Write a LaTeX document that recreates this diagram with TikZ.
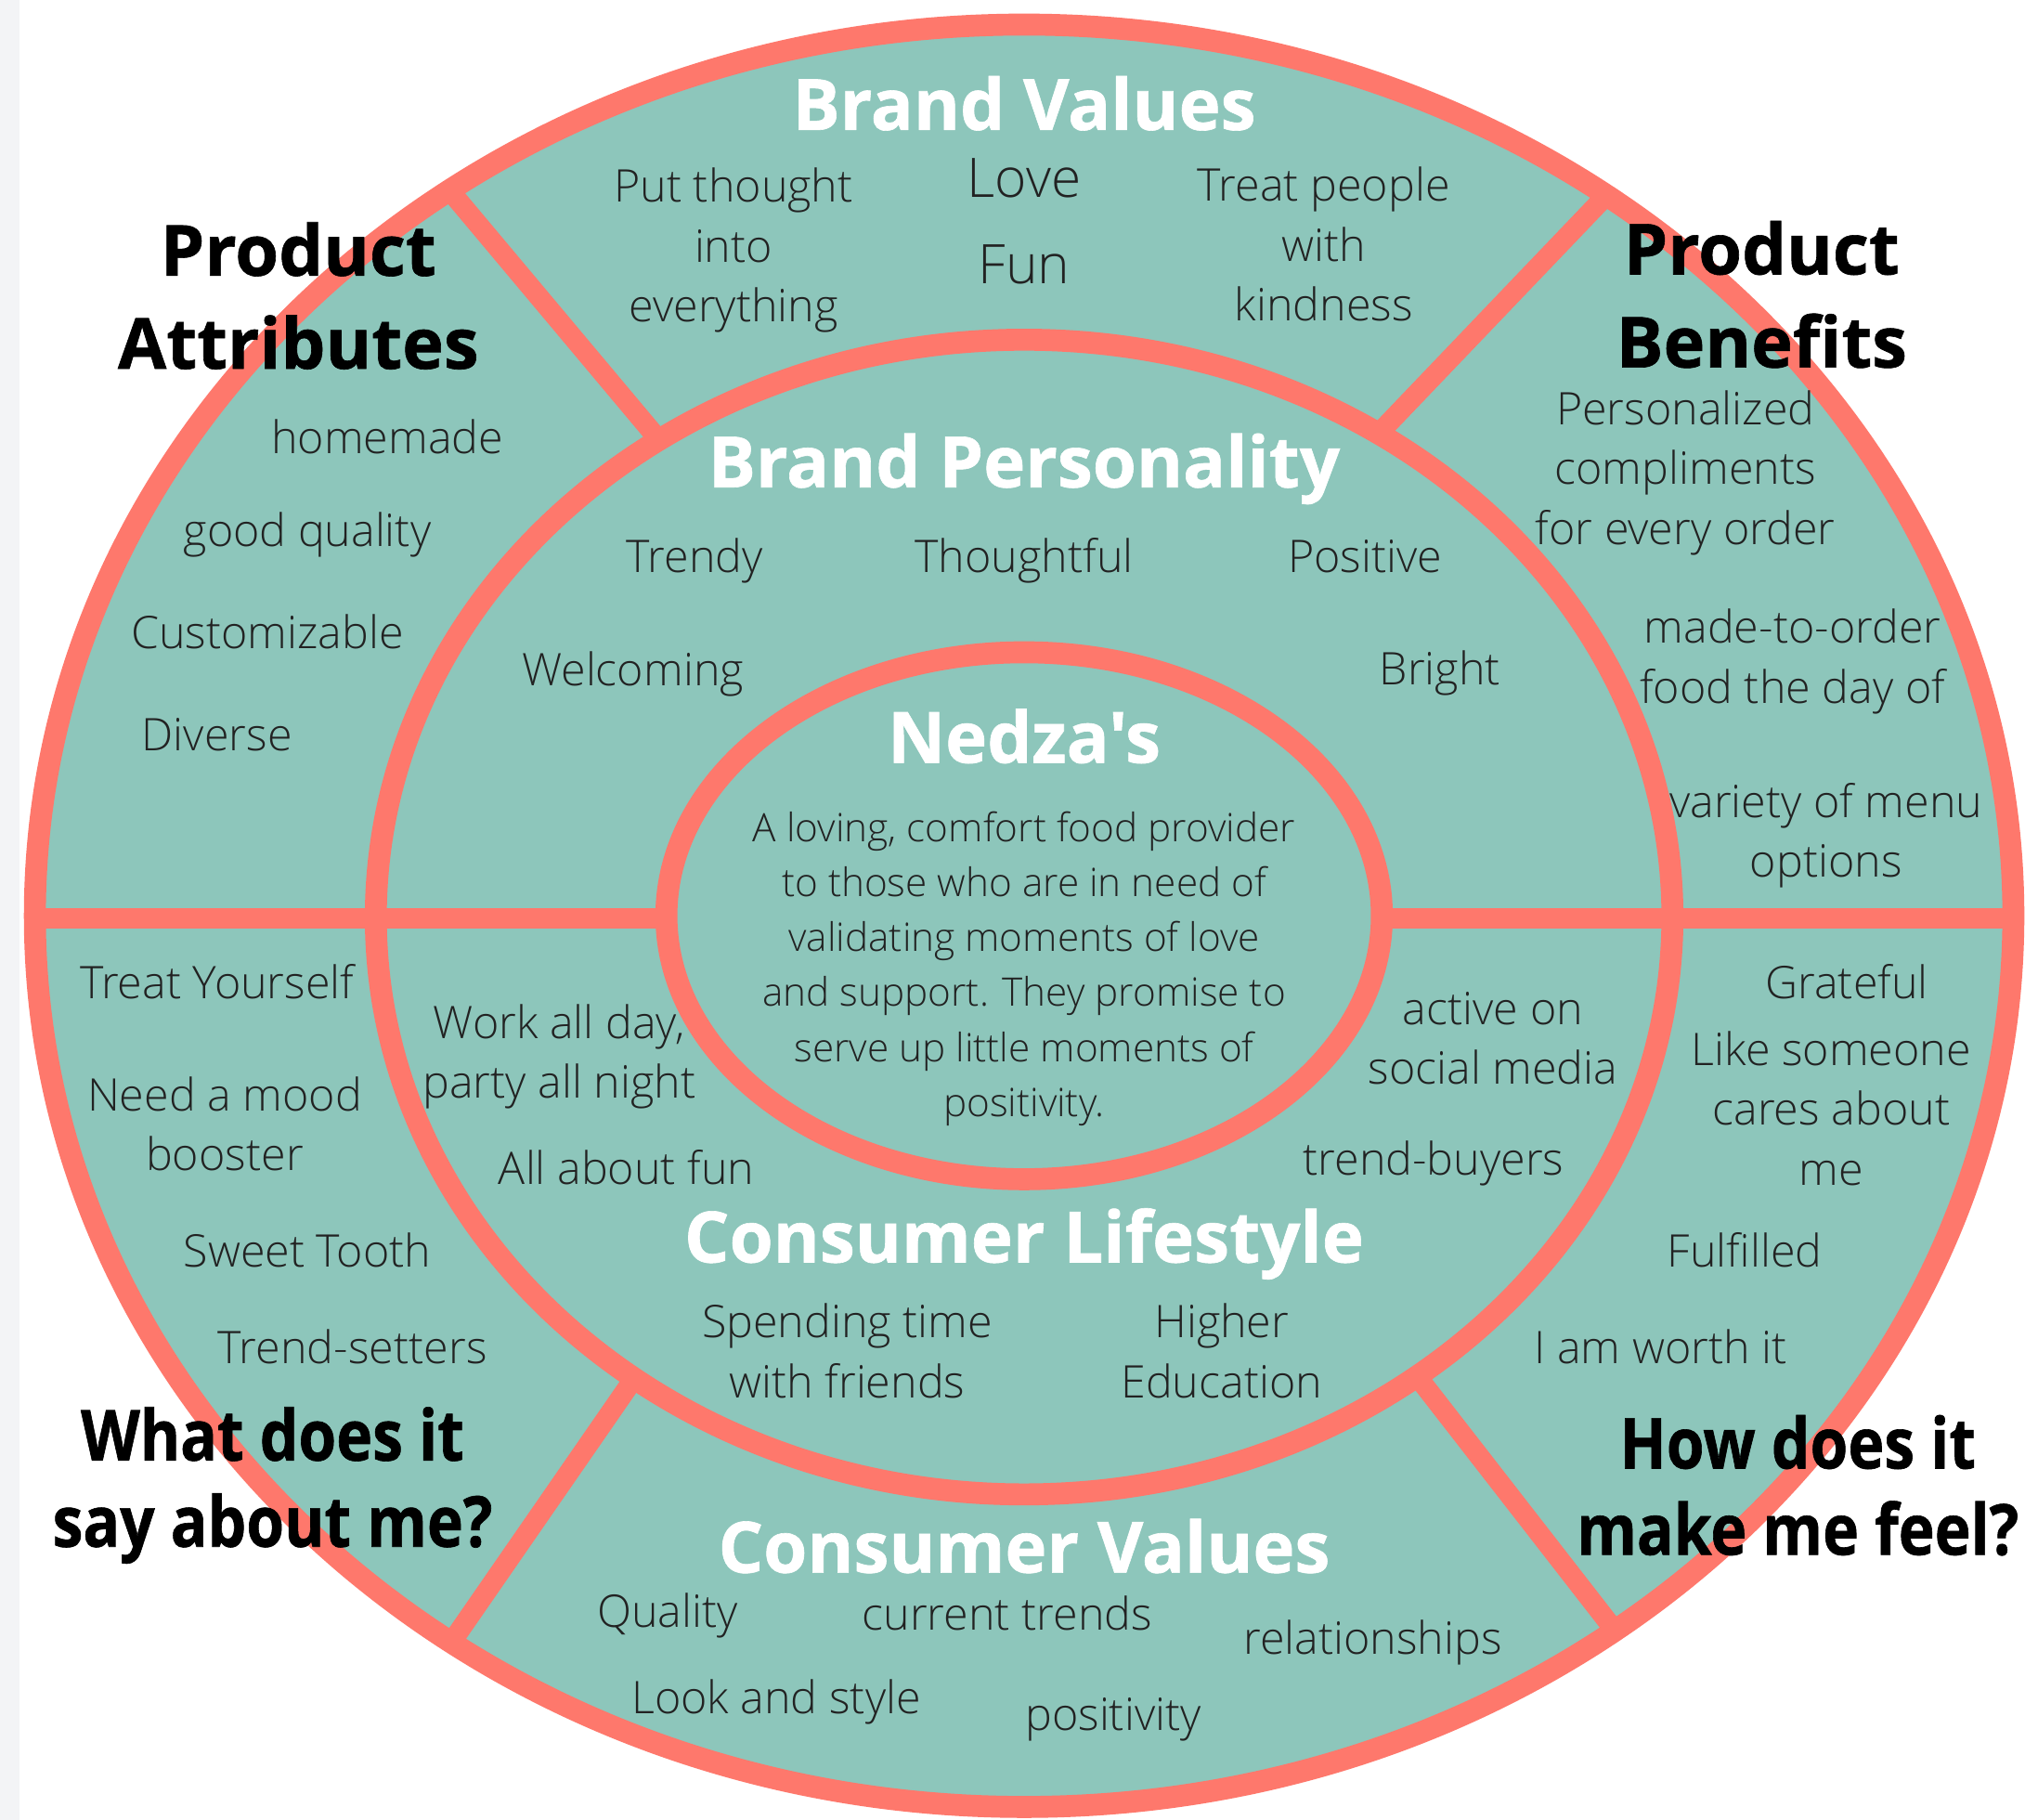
\documentclass[tikz,border=0pt]{standalone}
\usepackage{fontspec}
\setmainfont{Open Sans}[Ligatures=TeXOff, BoldFeatures={FakeBold=0.8}]
\newfontfamily\lightfont{Open Sans Light}
\newfontfamily\narrowfont{Open Sans}[FakeStretch=0.87, BoldFeatures={FakeBold=0.8}]
\newcommand\heavyfont{\bfseries}
\usetikzlibrary{calc}
\definecolor{sea}{HTML}{8DC6BB}
\definecolor{coral}{HTML}{FE786C}
\definecolor{ink}{HTML}{222222}
\definecolor{margin}{HTML}{F3F4F6}

\begin{document}
\begin{tikzpicture}[
  x=0.1mm, y=-0.1mm,
  ring/.style={draw=coral, line width=1.7mm},
  spoke/.style={draw=coral, line width=1.55mm},
  item/.style={font=\lightfont\fontsize{9.9}{13.2}\selectfont, text=ink, align=center, inner sep=0pt},
  big/.style={item, font=\lightfont\fontsize{12}{16}\selectfont},
  blurb/.style={item, font=\lightfont\fontsize{8.65}{12.1}\selectfont},
  ringtitle/.style={font=\heavyfont\fontsize{15.6}{18}\selectfont, text=white, inner sep=0pt},
  corner/.style={font=\heavyfont\fontsize{15.5}{20.5}\selectfont, text=black, align=center, inner sep=0pt},
  question/.style={corner, font=\narrowfont\bfseries\fontsize{15.5}{19}\selectfont},
]
\useasboundingbox (0,0) rectangle (1568,1409);
\fill[white] (0,0) rectangle (1568,1409);
\fill[margin] (0,0) rectangle (15,1409);

% wheel
\coordinate (hub) at (793,709);
\coordinate (mid) at (793,710);
\fill[sea] (hub) ellipse [x radius=76.6mm, y radius=69mm];
% spokes of the outer ring
\coordinate (ulin) at (508,338);  \coordinate (ulout) at (347,146);
\coordinate (urin) at (1070,333); \coordinate (urout) at (1245,150);
\coordinate (llin) at (489,1070); \coordinate (llout) at (352,1268);
\coordinate (lrin) at (1100,1069);\coordinate (lrout) at (1250,1262);
\draw[spoke] (ulin) -- (ulout);
\draw[spoke] (urin) -- (urout);
\draw[spoke] (llin) -- (llout);
\draw[spoke] (lrin) -- (lrout);
\draw[spoke] ($(hub)+(-766,2)$) -- ($(hub)+(-277,2)$);
\draw[spoke] ($(hub)+(277,2)$) -- ($(hub)+(766,2)$);
\draw[ring] (hub) ellipse [x radius=76.6mm, y radius=69mm];
\draw[ring] (mid) ellipse [x radius=50.2mm, y radius=44.7mm];
\draw[ring] (hub) ellipse [x radius=27.7mm, y radius=20.4mm];

% brand values
\node[ringtitle] (brandval) at (793,80) {Brand Values};
\node[item] (thought) at (568,194) {Put thought\\into\\everything};
\node[big] (love) at (793,138) {Love};
\node[big] (fun) at (793,205) {Fun};
\node[item] (kind) at (1025,189) {Treat people\\with\\kindness};

% product attributes
\node[corner] (attr) at (231,229) {Product\\Attributes};
\node[item] (home) at (300,338) {homemade};
\node[item] (goodq) at (238,414) {good quality};
\node[item] (custom) at (207,489) {Customizable};
\node[item] (diverse) at (168,569) {Diverse};

% product benefits
\node[corner] (bene) at (1364,228) {Product\\Benefits};
\node[item] (compl) at (1305,366) {Personalized\\compliments\\for every order};
\node[item] (order) at (1388,512) {made-to-order\\food the day of};
\node[item] (menu) at (1414,647) {variety of menu\\options};

% brand personality
\node[ringtitle] (person) at (793,363) {Brand Personality};
\node[item] (trendy) at (538,434) {Trendy};
\node[item] (thoughtful) at (793,434) {Thoughtful};
\node[item] (positive) at (1057,431) {Positive};
\node[item] (welcome) at (490,522) {Welcoming};
\node[item] (bright) at (1115,521) {Bright};

% core
\node[ringtitle] (nedza) at (793,570) {Nedza's};
\node[blurb] (promise) at (793,750) {A loving, comfort food provider\\to those who are in need of\\validating moments of love\\and support. They promise to\\serve up little moments of\\positivity.};

% consumer lifestyle
\node[item] (workday) at (433,818) {Work all day,\\party all night};
\node[item] (allfun) at (485,904) {All about fun};
\node[item] (social) at (1156,804) {active on\\social media};
\node[item] (buyers) at (1110,901) {trend-buyers};
\node[ringtitle] (life) at (793,963) {Consumer Lifestyle};
\node[item] (friends) at (656,1046) {Spending time\\with friends};
\node[item] (edu) at (946,1046) {Higher\\Education};

% what does it say about me
\node[item] (treat) at (168,760) {Treat Yourself};
\node[item] (mood) at (174,870) {Need a mood\\booster};
\node[item] (sweet) at (238,968) {Sweet Tooth};
\node[item] (setters) at (273,1043) {Trend-setters};
\node[question] (sayme) at (211,1150) {What does it\\say about me?};

% how does it make me feel
\node[item] (grateful) at (1430,760) {Grateful};
\node[item] (cares) at (1418,858) {Like someone\\cares about\\me};
\node[item] (fulfil) at (1351,968) {Fulfilled};
\node[item] (worth) at (1286,1043) {I am worth it};
\node[question] (feelme) at (1392,1150) {How does it\\make me feel?};

% consumer values
\node[ringtitle] (cval) at (793,1197) {Consumer Values};
\node[item] (quality) at (517,1251) {Quality};
\node[item] (current) at (780,1249) {current trends};
\node[item] (relation) at (1063,1272) {relationships};
\node[item] (look) at (601,1318) {Look and style};
\node[item] (posit) at (862,1331) {positivity};
\end{tikzpicture}
\end{document}
